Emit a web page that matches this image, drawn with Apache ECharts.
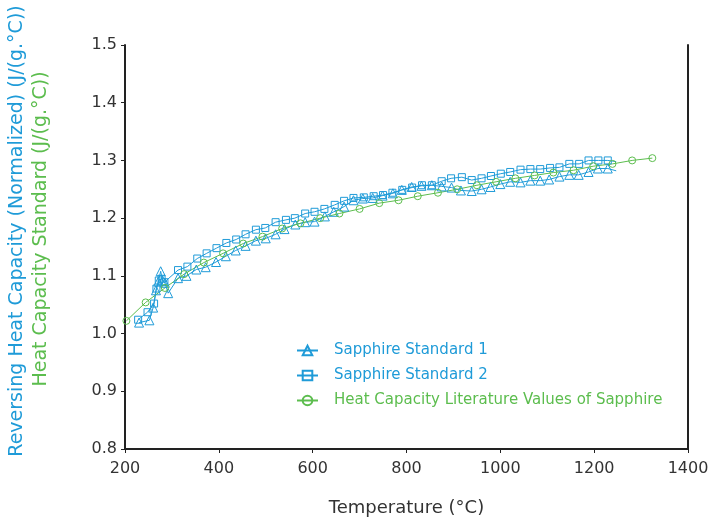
<!DOCTYPE html>
<html>
<head>
<meta charset="utf-8">
<script src="https://cdn.jsdelivr.net/npm/echarts@6/dist/echarts.min.js"></script>
<style>
html,body{margin:0;padding:0;background:#fff;}
#chart{width:714px;height:517px;}
</style>
</head>
<body>
<div id="chart"></div>
<script>
// Sapphire Standard 1 (triangles): [temperature °C, J/(g.°C)]
const std1T = [230, 252, 260, 266, 271, 276, 280, 285, 292, 313, 331, 352, 372, 394, 415, 436, 457, 479, 500, 521, 540, 563, 584, 604, 626, 645, 667, 687, 707, 728, 749, 771, 790, 811, 832, 854, 875, 896, 916, 939, 960, 979, 1000, 1021, 1043, 1064, 1085, 1104, 1126, 1147, 1167, 1188, 1208, 1229, 1247];
const std1V = [1.019, 1.023, 1.045, 1.075, 1.090, 1.108, 1.092, 1.088, 1.070, 1.096, 1.100, 1.111, 1.115, 1.124, 1.134, 1.144, 1.152, 1.161, 1.165, 1.172, 1.181, 1.189, 1.193, 1.194, 1.203, 1.211, 1.220, 1.231, 1.234, 1.235, 1.239, 1.243, 1.249, 1.254, 1.256, 1.257, 1.255, 1.253, 1.248, 1.247, 1.250, 1.254, 1.259, 1.263, 1.262, 1.265, 1.265, 1.267, 1.272, 1.275, 1.275, 1.280, 1.286, 1.286, 1.282];
// Sapphire Standard 2 (squares)
const std2T = [228, 248, 262, 267, 272, 278, 284, 313, 333, 354, 374, 395, 416, 437, 457, 479, 499, 521, 543, 562, 584, 604, 625, 647, 667, 687, 709, 730, 750, 770, 791, 812, 833, 854, 875, 895, 918, 939, 960, 980, 1001, 1021, 1043, 1064, 1085, 1106, 1126, 1147, 1168, 1188, 1209, 1229, 1247];
const std2V = [1.024, 1.037, 1.052, 1.078, 1.092, 1.095, 1.089, 1.110, 1.116, 1.130, 1.139, 1.148, 1.157, 1.163, 1.172, 1.180, 1.183, 1.193, 1.197, 1.200, 1.208, 1.211, 1.216, 1.223, 1.230, 1.235, 1.236, 1.238, 1.240, 1.244, 1.249, 1.253, 1.257, 1.257, 1.264, 1.269, 1.271, 1.266, 1.269, 1.273, 1.277, 1.280, 1.284, 1.285, 1.285, 1.287, 1.288, 1.294, 1.294, 1.300, 1.300, 1.300, 1.298];
// Heat Capacity Literature Values of Sapphire (circles)
const litT = [203, 244, 285, 326, 368, 409, 452, 493, 535, 574, 616, 657, 700, 742, 783, 824, 867, 908, 950, 991, 1032, 1073, 1113, 1156, 1198, 1239, 1281, 1324];
const litV = [1.022, 1.054, 1.079, 1.103, 1.123, 1.139, 1.156, 1.168, 1.182, 1.191, 1.200, 1.208, 1.216, 1.226, 1.231, 1.238, 1.244, 1.250, 1.257, 1.263, 1.269, 1.274, 1.279, 1.283, 1.290, 1.294, 1.300, 1.304];

const seriesNames = ['Sapphire Standard 1', 'Sapphire Standard 2', 'Heat Capacity Literature Values of Sapphire'];
const xTicks = [200, 400, 600, 800, 1000, 1200, 1400];
const yTicks = [0.8, 0.9, 1.0, 1.1, 1.2, 1.3, 1.4, 1.5];
const xTitle = 'Temperature (°C)';
const yTitle1 = 'Reversing Heat Capacity (Normalized) (J/(g.°C))';
const yTitle2 = 'Heat Capacity Standard (J/(g.°C))';

const BLUE = '#1f9bd8';
const GREEN = '#5cbd4e';
const FONT = 'DejaVu Sans';

function pts(T, V, lastNoSymbol) {
  return T.map((t, i) => {
    const item = { value: [t, V[i]] };
    if (lastNoSymbol && i === T.length - 1) item.symbol = 'none';
    return item;
  });
}

function mkSeries(name, T, V, color, symbol, size, lastNoSymbol) {
  return {
    name: name,
    type: 'line',
    data: pts(T, V, lastNoSymbol),
    symbol: symbol,
    symbolSize: size,
    showAllSymbol: true,
    color: color,
    lineStyle: { color: color, width: 1 },
    itemStyle: { color: 'rgba(255,255,255,0)', borderColor: color, borderWidth: 1 },
    emphasis: { disabled: true },
    z: 2
  };
}

const chart = echarts.init(document.getElementById('chart'), null, { renderer: 'canvas' });
chart.setOption({
  animation: false,
  textStyle: { fontFamily: FONT },
  grid: { left: 125, right: 26, top: 45, bottom: 68, containLabel: false, outerBoundsMode: 'none' },
  legend: {
    orient: 'vertical',
    left: 291,
    top: 338,
    itemWidth: 21,
    itemHeight: 12,
    itemGap: 10,
    textStyle: { fontFamily: FONT, fontSize: 15, padding: [0, 0, 0, 11] },
    data: [
      { name: seriesNames[0], textStyle: { color: BLUE } },
      { name: seriesNames[1], textStyle: { color: BLUE } },
      { name: seriesNames[2], textStyle: { color: GREEN } }
    ]
  },
  xAxis: {
    type: 'value',
    min: xTicks[0],
    max: xTicks[xTicks.length - 1],
    interval: 200,
    name: xTitle,
    nameLocation: 'middle',
    nameGap: 50,
    nameTextStyle: { fontFamily: FONT, fontSize: 18, color: '#333' },
    axisLine: { show: true, lineStyle: { color: '#222', width: 2 } },
    axisTick: { show: true, inside: false, length: 4, lineStyle: { color: '#222', width: 1 } },
    axisLabel: { fontFamily: FONT, fontSize: 16, color: '#333', margin: 12, formatter: v => String(v) },
    splitLine: { show: false }
  },
  yAxis: [
    {
      type: 'value',
      min: yTicks[0],
      max: yTicks[yTicks.length - 1],
      interval: 0.1,
      axisLine: { show: true, onZero: false, lineStyle: { color: '#222', width: 2 } },
      axisTick: { show: true, inside: false, length: 4, lineStyle: { color: '#222', width: 1 } },
      axisLabel: { fontFamily: FONT, fontSize: 16, color: '#333', margin: 8, formatter: v => v.toFixed(1) },
      splitLine: { show: false }
    },
    {
      type: 'value',
      position: 'right',
      min: yTicks[0],
      max: yTicks[yTicks.length - 1],
      interval: 0.1,
      axisLine: { show: true, onZero: false, lineStyle: { color: '#222', width: 2 } },
      axisTick: { show: false },
      axisLabel: { show: false },
      splitLine: { show: false }
    }
  ],
  graphic: [
    {
      type: 'text',
      x: 17, y: 231,
      rotation: Math.PI / 2,
      style: { text: yTitle1, fill: BLUE, font: '19px "' + FONT + '"', textAlign: 'center', textVerticalAlign: 'middle' }
    },
    {
      type: 'text',
      x: 41, y: 229,
      rotation: Math.PI / 2,
      style: { text: yTitle2, fill: GREEN, font: '19px "' + FONT + '"', textAlign: 'center', textVerticalAlign: 'middle' }
    }
  ],
  series: [
    mkSeries(seriesNames[0], std1T, std1V, BLUE, 'triangle', 9, true),
    mkSeries(seriesNames[1], std2T, std2V, BLUE, 'rect', 7, true),
    mkSeries(seriesNames[2], litT, litV, GREEN, 'circle', 7, false)
  ]
});
</script>
</body>
</html>
